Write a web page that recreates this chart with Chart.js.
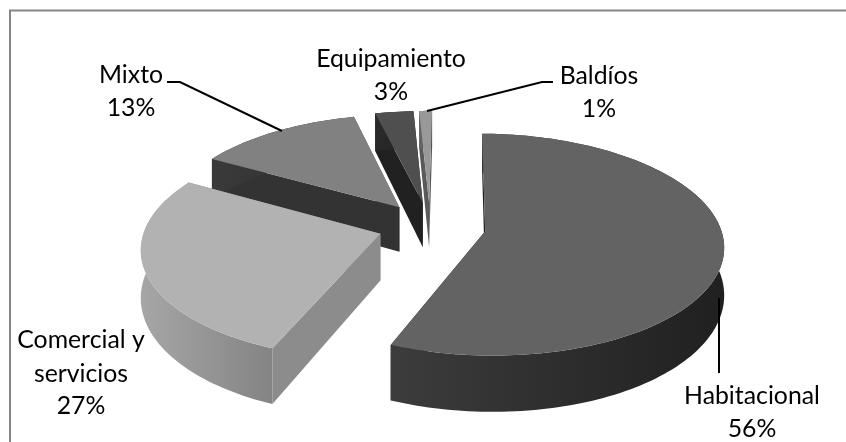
<!DOCTYPE html>
<html>
<head>
<meta charset="utf-8">
<style>
  html, body { margin: 0; padding: 0; background: #fff; overflow: hidden; }
  #wrap { width: 846px; height: 442px; }
</style>
<script src="https://cdn.jsdelivr.net/npm/chart.js@4"></script>
</head>
<body>
<div id="wrap"><canvas id="chart" width="846" height="442"></canvas></div>
<script>
const categories = ['Habitacional', 'Comercial y servicios', 'Mixto', 'Equipamiento', 'Baldíos'];
const shares = [56, 27, 13, 3, 1];

const topColors = ['#636363', '#b2b2b2', '#818181', '#4f4f4f', '#999999'];
const cutColors = ['#1f1f1f', '#8c8c8c', '#333333', '#212121', '#5a5a5a'];
const wallFrom = ['#3c3c3c', '#a6a6a6', '#3a3a3a', '#2a2a2a', '#666666'];
const wallTo = ['#202020', '#848484', '#2e2e2e', '#222222', '#555555'];
const explode = [56, 52, 52, 52, 52];

// label lines, centre x and baseline y
const labelLines = [
  [['Habitacional', 752, 404], ['56%', 752, 437]],
  [['Comercial y', 81, 348], ['servicios', 81, 382], ['27%', 81, 414]],
  [['Mixto', 131, 83], ['13%', 131, 116]],
  [['Equipamiento', 391, 67], ['3%', 391, 100]],
  [['Baldíos', 599, 84], ['1%', 599, 117]]
];
const leaders = [
  [[719, 298], [719, 373]],
  [],
  [[167, 82], [180, 82], [282, 131]],
  [],
  [[427, 111], [542, 82], [553, 82]]
];

const tilt = 0.46;     // flattening of the disc
const persp = 0.12;    // how much bigger the front is
const depth = 46;      // height of the slices

function project(arc, u, v, down) {
  const w = 1 - persp * v / arc.outerRadius;
  return {
    x: arc.x + u / w,
    y: arc.y + tilt * v / w + (down ? depth * Math.pow(w, -1.5) : 0)
  };
}

function trace(ctx, pts) {
  ctx.beginPath();
  pts.forEach((s, k) => k ? ctx.lineTo(s.x, s.y) : ctx.moveTo(s.x, s.y));
  ctx.closePath();
}

function drawSlice(ctx, arc, i) {
  const mid = (arc.startAngle + arc.endAngle) / 2;
  const ox = Math.cos(mid) * arc.options.offset, oy = Math.sin(mid) * arc.options.offset;
  const n = Math.max(4, Math.ceil((arc.endAngle - arc.startAngle) * 40));
  const rim = [];
  for (let k = 0; k <= n; k++) {
    const a = arc.startAngle + (arc.endAngle - arc.startAngle) * k / n;
    rim.push({u: ox + Math.cos(a) * arc.outerRadius, v: oy + Math.sin(a) * arc.outerRadius});
  }
  const up = p => project(arc, p.u, p.v);
  const low = p => project(arc, p.u, p.v, true);
  const apex = {u: ox, v: oy};
  const first = rim[0], last = rim[n];

  // cut faces, the one further back first
  const cuts = [first, last].sort((a, b) => a.v - b.v);
  ctx.fillStyle = cutColors[i];
  cuts.forEach(p => {
    trace(ctx, [up(apex), up(p), low(p), low(apex)]);
    ctx.fill();
  });

  // outer wall in one piece so that the gradient has no seams
  const xs = rim.map(p => up(p).x);
  const g = ctx.createLinearGradient(Math.min(...xs), 0, Math.max(...xs), 0);
  g.addColorStop(0, wallFrom[i]);
  g.addColorStop(1, wallTo[i]);
  ctx.fillStyle = g;
  trace(ctx, rim.map(up).concat(rim.slice().reverse().map(low)));
  ctx.fill();

  ctx.fillStyle = topColors[i];
  trace(ctx, [up(apex)].concat(rim.map(up)));
  ctx.fill();
}

const pie3d = {
  id: 'pie3d',
  beforeDatasetsDraw(chart) {
    const ctx = chart.ctx;
    const arcs = chart.getDatasetMeta(0).data;
    ctx.save();
    // frame, only top and left are inside the picture
    ctx.strokeStyle = '#868686';
    ctx.lineWidth = 2;
    ctx.beginPath();
    ctx.moveTo(10, 442);
    ctx.lineTo(10, 10.5);
    ctx.lineTo(846, 10.5);
    ctx.stroke();
    // back slices first
    [3, 4, 2, 1, 0].forEach(i => drawSlice(ctx, arcs[i], i));
    // leader lines
    ctx.strokeStyle = '#000';
    ctx.lineWidth = 2;
    leaders.forEach(line => {
      if (!line.length) return;
      ctx.beginPath();
      line.forEach((p, k) => k ? ctx.lineTo(p[0], p[1]) : ctx.moveTo(p[0], p[1]));
      ctx.stroke();
    });
    // labels
    ctx.fillStyle = '#000';
    ctx.font = '24.8px Lato';
    ctx.textAlign = 'center';
    labelLines.forEach(lines => lines.forEach(l => ctx.fillText(l[0], l[1], l[2])));
    ctx.restore();
    return false;
  }
};

new Chart(document.getElementById('chart'), {
  type: 'pie',
  data: {
    labels: categories,
    datasets: [{
      data: shares,
      backgroundColor: topColors,
      borderWidth: 0,
      offset: explode
    }]
  },
  options: {
    responsive: false,
    animation: false,
    radius: 235,
    rotation: 0.8,
    layout: { padding: { left: 14, top: 10 } },
    plugins: { legend: { display: false }, tooltip: { enabled: false } }
  },
  plugins: [pie3d]
});
</script>
</body>
</html>
